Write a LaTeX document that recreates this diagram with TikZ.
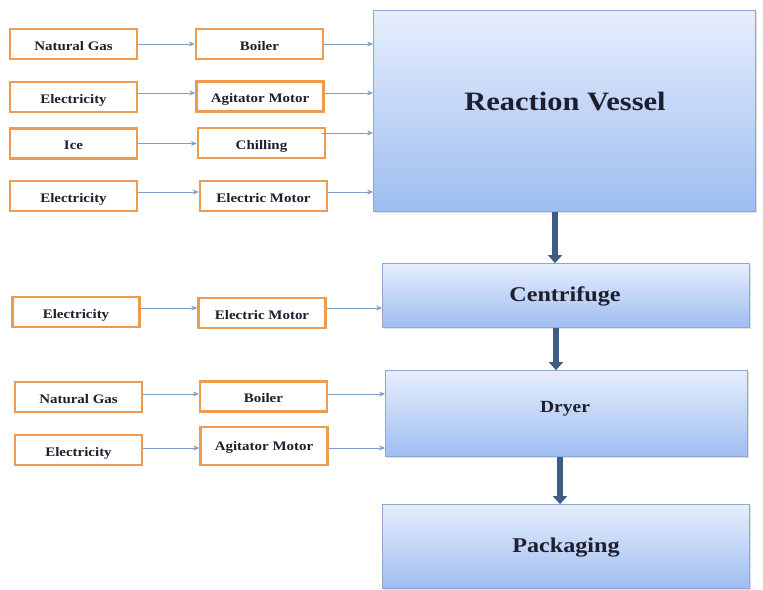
\documentclass[tikz,border=0pt]{standalone}
\usepackage{fontspec}
\setmainfont[FakeStretch=1.15]{Liberation Serif}
\usetikzlibrary{arrows.meta,shadows}
\definecolor{obord}{HTML}{EE9A4F}
\definecolor{bbord}{HTML}{8EA8CF}
\definecolor{btop}{HTML}{E6EEFC}
\definecolor{bbot}{HTML}{9EBDF1}
\definecolor{thinarr}{HTML}{7F9FC8}
\definecolor{thickarr}{HTML}{3E5C84}
\definecolor{txt}{HTML}{1E1E2E}
\tikzset{
  obox/.style={draw=obord, line width=2.4pt, fill=white, minimum width=127pt, minimum height=30pt, inner sep=0pt, text height=13pt, text depth=1pt, font=\bfseries\fontsize{13}{15}\selectfont, text=txt},
  bbox/.style={draw=bbord, line width=0.8pt, top color=btop, bottom color=bbot, inner sep=0pt, drop shadow={shadow xshift=1.5pt, shadow yshift=-1.5pt, opacity=0.25}},
  btext/.style={font=\bfseries, text=txt, inner sep=0pt},
  tarr/.style={draw=thinarr, line width=0.9pt, -{Stealth[length=6pt,width=5pt]}},
  karr/.style={draw=thickarr, line width=6pt, -{Triangle[length=8pt,width=14pt]}}
}
\begin{document}
\begin{tikzpicture}[x=1pt,y=-1pt]
\useasboundingbox (0,0) rectangle (763,589);
% blue process boxes
\node[bbox, minimum width=382pt, minimum height=201pt] (vessel) at (564.5,111) {};
\node[btext, font=\bfseries\fontsize{26.5}{30}\selectfont] (vesselT) at (565,102) {Reaction Vessel};
\node[bbox, minimum width=367pt, minimum height=64pt] (centri) at (566,295.5) {};
\node[btext, font=\bfseries\fontsize{21}{24}\selectfont] (centriT) at (565,296) {Centrifuge};
\node[bbox, minimum width=362pt, minimum height=86pt] (dryer) at (566.5,413.5) {};
\node[btext, font=\bfseries\fontsize{17}{20}\selectfont] (dryerT) at (565,409) {Dryer};
\node[bbox, minimum width=367pt, minimum height=84pt] (pack) at (566,546.5) {};
\node[btext, font=\bfseries\fontsize{21}{24}\selectfont] (packT) at (566,548) {Packaging};
% orange boxes, group 1
\node[obox] (ng1) at (73.5,44) {Natural Gas};
\node[obox] (boil1) at (259.5,44) {Boiler};
\node[obox] (el1) at (73.5,97) {Electricity};
\node[obox] (agm1) at (260,96.5) {Agitator Motor};
\node[obox] (ice) at (73.5,143.5) {Ice};
\node[obox] (chill) at (261.5,143) {Chilling};
\node[obox] (el2) at (73.5,196) {Electricity};
\node[obox] (em1) at (263.5,196) {Electric Motor};
% group 2
\node[obox] (el3) at (76,312) {Electricity};
\node[obox] (em2) at (262,313) {Electric Motor};
% group 3
\node[obox] (ng2) at (78.5,397) {Natural Gas};
\node[obox] (boil2) at (263.5,396.5) {Boiler};
\node[obox] (el4) at (78.5,450) {Electricity};
\node[obox, minimum height=38pt, text height=13pt, text depth=5pt] (agm2) at (264,446) {Agitator Motor};
% thin arrows
\draw[tarr] (ng1) -- (boil1);
\draw[tarr] (boil1.east) -- (boil1.east -| vessel.west);
\draw[tarr] (el1.east |- 0,93) -- (agm1.west |- 0,93);
\draw[tarr] (agm1.east |- 0,93) -- (vessel.west |- 0,93);
\draw[tarr] (ice.east) -- (chill.west |- ice.east);
\draw[tarr] ([xshift=-4pt]chill.east |- 0,133) -- (vessel.west |- 0,133);
\draw[tarr] (el2.east |- 0,192) -- (em1.west |- 0,192);
\draw[tarr] (em1.east |- 0,192) -- (vessel.west |- 0,192);
\draw[tarr] (el3.east |- 0,308) -- (em2.west |- 0,308);
\draw[tarr] (em2.east |- 0,308) -- (centri.west |- 0,308);
\draw[tarr] (ng2.east |- 0,394) -- (boil2.west |- 0,394);
\draw[tarr] (boil2.east |- 0,394) -- (dryer.west |- 0,394);
\draw[tarr] (el4.east |- 0,448) -- (agm2.west |- 0,448);
\draw[tarr] (agm2.east |- 0,448) -- (dryer.west |- 0,448);
% thick arrows
\draw[karr] (vessel.south -| 555,0) -- (centri.north -| 555,0);
\draw[karr] (centri.south -| 556,0) -- (dryer.north -| 556,0);
\draw[karr] (dryer.south -| 560,0) -- (pack.north -| 560,0);
\end{tikzpicture}
\end{document}
